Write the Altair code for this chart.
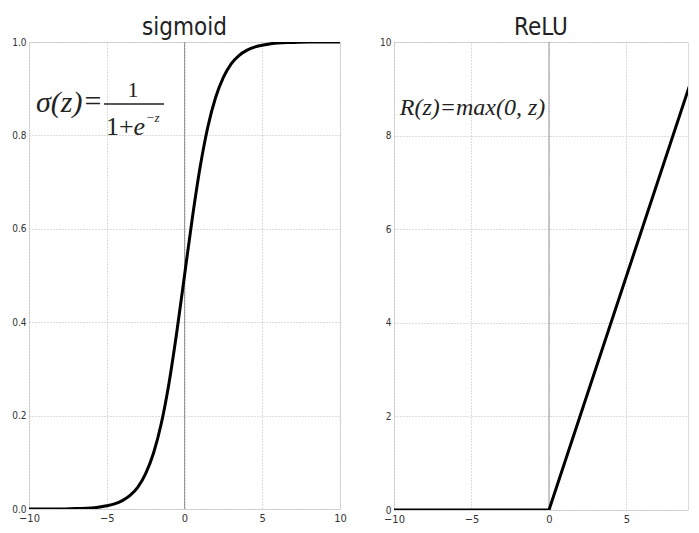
import altair as alt
import pandas as pd

# sigmoid curve
sig_x = [-10, -9, -8, -7, -6, -5, -4.5, -4, -3.5, -3, -2.5, -2, -1.5, -1, -0.5, 0,
         0.5, 1, 1.5, 2, 2.5, 3, 3.5, 4, 4.5, 5, 6, 7, 8, 9, 10]
sig_y = [0.000, 0.000, 0.000, 0.001, 0.002, 0.007, 0.011, 0.018, 0.029, 0.047, 0.076,
         0.119, 0.182, 0.269, 0.378, 0.500, 0.622, 0.731, 0.818, 0.881, 0.924, 0.953,
         0.971, 0.982, 0.989, 0.993, 0.998, 0.999, 1.000, 1.000, 1.000]

# ReLU line
relu_x = [-10, 0, 10]
relu_y = [0, 0, 10]

sig_xticks = [-10, -5, 0, 5, 10]
sig_yticks = [0.0, 0.2, 0.4, 0.6, 0.8, 1.0]
relu_xticks = [-10, -5, 0, 5]
relu_yticks = [0, 2, 4, 6, 8, 10]

FONT = "DejaVu Sans Condensed, Liberation Sans Narrow, Roboto Condensed, DejaVu Sans"
SERIF = "Liberation Serif, DejaVu Serif"

sig_df = pd.DataFrame({"z": sig_x, "v": sig_y})
relu_df = pd.DataFrame({"z": relu_x, "v": relu_y})


def axes(xticks, yticks, yfmt):
    xa = alt.Axis(values=xticks, grid=True, gridDash=[1, 2], gridColor="#bbbbbb",
                  ticks=False, labelFont=FONT, labelFontSize=11,
                  labelColor="#333", domain=False, title=None, labelPadding=3,
                  labelFlush=False)
    ya = alt.Axis(values=yticks, grid=True, gridDash=[1, 2], gridColor="#bbbbbb",
                  ticks=False, labelFont=FONT, labelFontSize=10,
                  labelColor="#333", domain=False, title=None, format=yfmt,
                  labelPadding=3, labelFlush=False)
    return xa, ya


def panel(df, xdom, ydom, xticks, yticks, yfmt, title, w, h, interp):
    xa, ya = axes(xticks, yticks, yfmt)
    zero = alt.Chart(pd.DataFrame({"z": [0]})).mark_rule(color="#999999", strokeWidth=1).encode(
        x=alt.X("z:Q", scale=alt.Scale(domain=xdom, nice=False), axis=xa))
    line = alt.Chart(df).mark_line(color="black", strokeWidth=3, clip=True, interpolate=interp).encode(
        x=alt.X("z:Q", scale=alt.Scale(domain=xdom, nice=False), axis=xa),
        y=alt.Y("v:Q", scale=alt.Scale(domain=ydom, nice=False), axis=ya),
    )
    return alt.layer(zero, line).properties(
        width=w, height=h,
        title=alt.TitleParams(title, font=FONT, fontSize=24, fontWeight="normal",
                              color="#222", offset=-3),
    )


def txt(df, xdom, ydom, size, italic, align):
    kw = dict(font=SERIF, fontSize=size, align=align, baseline="alphabetic", color="#222")
    if italic:
        kw["fontStyle"] = "italic"
    return alt.Chart(df).mark_text(**kw).encode(
        x=alt.X("z:Q", scale=alt.Scale(domain=xdom, nice=False)),
        y=alt.Y("v:Q", scale=alt.Scale(domain=ydom, nice=False)),
        text="t:N")


SX = [-10, 10]
SY = [0, 1]
sig_chart = panel(sig_df, SX, SY, sig_xticks, sig_yticks, ".1f", "sigmoid", 311, 467, "monotone")

# formula annotation for sigmoid: sigma(z) = 1 / (1 + e^-z)
f_lhs = pd.DataFrame({"z": [-9.55], "v": [0.850], "t": ["σ(z)"]})
f_eq = pd.DataFrame({"z": [-5.88], "v": [0.853], "t": ["="]})
f_num = pd.DataFrame({"z": [-3.31], "v": [0.882], "t": ["1"]})
f_den1 = pd.DataFrame({"z": [-5.05], "v": [0.801], "t": ["1+"]})
f_den2 = pd.DataFrame({"z": [-3.28], "v": [0.801], "t": ["e"]})
f_sup = pd.DataFrame({"z": [-2.5], "v": [0.829], "t": ["−z"]})
f_bar = pd.DataFrame({"z": [-5.18], "z2": [-1.32], "v": [0.867]})

sig_all = alt.layer(
    sig_chart,
    txt(f_lhs, SX, SY, 30, True, "left"),
    txt(f_eq, SX, SY, 30, False, "center"),
    txt(f_num, SX, SY, 22, False, "center"),
    txt(f_den1, SX, SY, 26, False, "left"),
    txt(f_den2, SX, SY, 26, True, "left"),
    txt(f_sup, SX, SY, 13, True, "left"),
    alt.Chart(f_bar).mark_rule(color="#222", strokeWidth=1.5).encode(
        x=alt.X("z:Q", scale=alt.Scale(domain=SX, nice=False)), x2="z2:Q",
        y=alt.Y("v:Q", scale=alt.Scale(domain=SY, nice=False))),
)

RX = [-10, 8.97]
RY = [0, 10]
relu_chart = panel(relu_df, RX, RY, relu_xticks, relu_yticks, "d", "ReLU", 294, 468, "linear")
r_txt = pd.DataFrame({"z": [-9.63], "v": [8.44], "t": ["R(z)=max(0,  z)"]})
relu_all = alt.layer(relu_chart, txt(r_txt, RX, RY, 24, True, "left"))

chart = alt.hconcat(sig_all, relu_all, spacing=32).properties(
    padding={"left": 3, "top": 7, "right": 0, "bottom": 0}
).configure_view(stroke="#333", strokeWidth=1.5).configure(background="white")

chart.save("out.html", embed_options={"renderer": "svg", "actions": False})
